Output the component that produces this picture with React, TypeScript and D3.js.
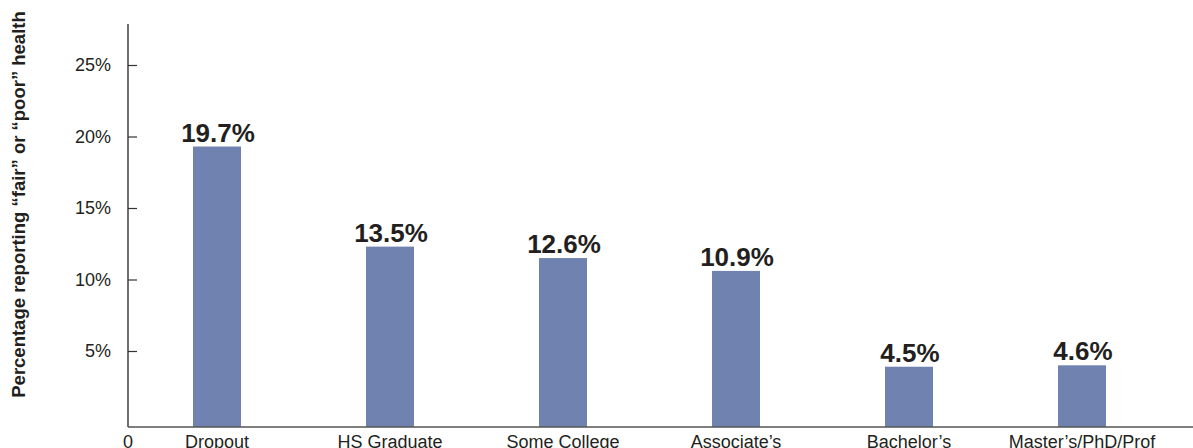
import { useRef, useEffect } from "react";
import * as d3 from "d3";

const categories = [
  "Dropout",
  "HS Graduate",
  "Some College",
  "Associate’s",
  "Bachelor’s",
  "Master’s/PhD/Prof",
];
// bar heights as drawn
const barValues = [19.3, 12.3, 11.5, 10.6, 3.9, 4.0];
// value labels as printed above the bars
const valueLabels = ["19.7%", "13.5%", "12.6%", "10.9%", "4.5%", "4.6%"];
const yTicks = [5, 10, 15, 20, 25];

const WIDTH = 1193;
const HEIGHT = 448;
const BAR_COLOR = "#7083b0";
const TEXT_COLOR = "#231f20";

export default function App() {
  const svgRef = useRef<SVGSVGElement>(null);

  useEffect(() => {
    const svg = svgRef.current;
    if (!svg) return;
    d3.select(svg).selectAll("*").remove();

    const axisX = 128;
    const axisTop = 24;
    const baseline = 427;

    const yScale = d3.scaleLinear().domain([0, 25]).range([422.5, 65]);
    const xScale = d3
      .scaleBand<string>()
      .domain(categories)
      .range([130.5, 1168.5])
      .paddingInner(0.7225)
      .paddingOuter(0.36125);

    const g = d3.select(svg).attr("viewBox", `0 0 ${WIDTH} ${HEIGHT}`);

    // Bars
    g.append("g")
      .selectAll("rect")
      .data(barValues)
      .join("rect")
      .attr("x", (_d, i) => xScale(categories[i])!)
      .attr("y", (d) => yScale(d))
      .attr("width", xScale.bandwidth())
      .attr("height", (d) => baseline - yScale(d))
      .attr("fill", BAR_COLOR);

    // Value labels
    g.append("g")
      .selectAll("text")
      .data(barValues)
      .join("text")
      .attr("x", (_d, i) => xScale(categories[i])! + xScale.bandwidth() / 2 + 1)
      .attr("y", (d) => yScale(d) - 5)
      .attr("text-anchor", "middle")
      .attr("font-family", "Liberation Sans, Arial, sans-serif")
      .attr("font-weight", "bold")
      .attr("font-size", "26px")
      .attr("fill", TEXT_COLOR)
      .text((_d, i) => valueLabels[i]);

    // Y axis (ticks point inward)
    g.append("g")
      .attr("transform", `translate(${axisX},0)`)
      .call(
        d3
          .axisLeft(yScale)
          .tickValues(yTicks)
          .tickSizeInner(-9)
          .tickSizeOuter(0)
          .tickPadding(17)
          .tickFormat((d) => `${d}%`)
      )
      .call((a) => a.select(".domain").remove())
      .call((a) =>
        a.selectAll(".tick line").attr("stroke", "#333").attr("stroke-width", 1.2)
      )
      .call((a) =>
        a
          .selectAll(".tick text")
          .attr("fill", TEXT_COLOR)
          .attr("font-family", "Liberation Sans, Arial, sans-serif")
          .attr("font-size", "18px")
      );

    // Axis lines
    g.append("line")
      .attr("x1", axisX)
      .attr("x2", axisX)
      .attr("y1", axisTop)
      .attr("y2", baseline)
      .attr("stroke", "#333")
      .attr("stroke-width", 1.4);
    g.append("line")
      .attr("x1", axisX)
      .attr("x2", WIDTH)
      .attr("y1", baseline)
      .attr("y2", baseline)
      .attr("stroke", "#555")
      .attr("stroke-width", 1.4);

    // "0" at origin
    g.append("text")
      .attr("x", axisX)
      .attr("y", 448)
      .attr("text-anchor", "middle")
      .attr("font-family", "Liberation Sans, Arial, sans-serif")
      .attr("font-size", "18px")
      .attr("fill", TEXT_COLOR)
      .text("0");

    // Category labels
    g.append("g")
      .selectAll("text")
      .data(categories)
      .join("text")
      .attr("x", (d) => xScale(d)! + xScale.bandwidth() / 2)
      .attr("y", 448)
      .attr("text-anchor", "middle")
      .attr("font-family", "Liberation Sans, Arial, sans-serif")
      .attr("font-size", "18px")
      .attr("fill", TEXT_COLOR)
      .text((d) => d);

    // Y axis title
    g.append("text")
      .attr("transform", "rotate(-90)")
      .attr("x", -204.5)
      .attr("y", 24.5)
      .attr("text-anchor", "middle")
      .attr("font-family", "Liberation Sans, Arial, sans-serif")
      .attr("font-weight", "bold")
      .attr("font-size", "18.5px")
      .attr("fill", TEXT_COLOR)
      .text("Percentage reporting “fair” or “poor” health");
  }, []);

  return (
    <svg
      ref={svgRef}
      width={WIDTH}
      height={HEIGHT}
      style={{ position: "absolute", left: 0, top: 0, display: "block", background: "#fff" }}
    />
  );
}
